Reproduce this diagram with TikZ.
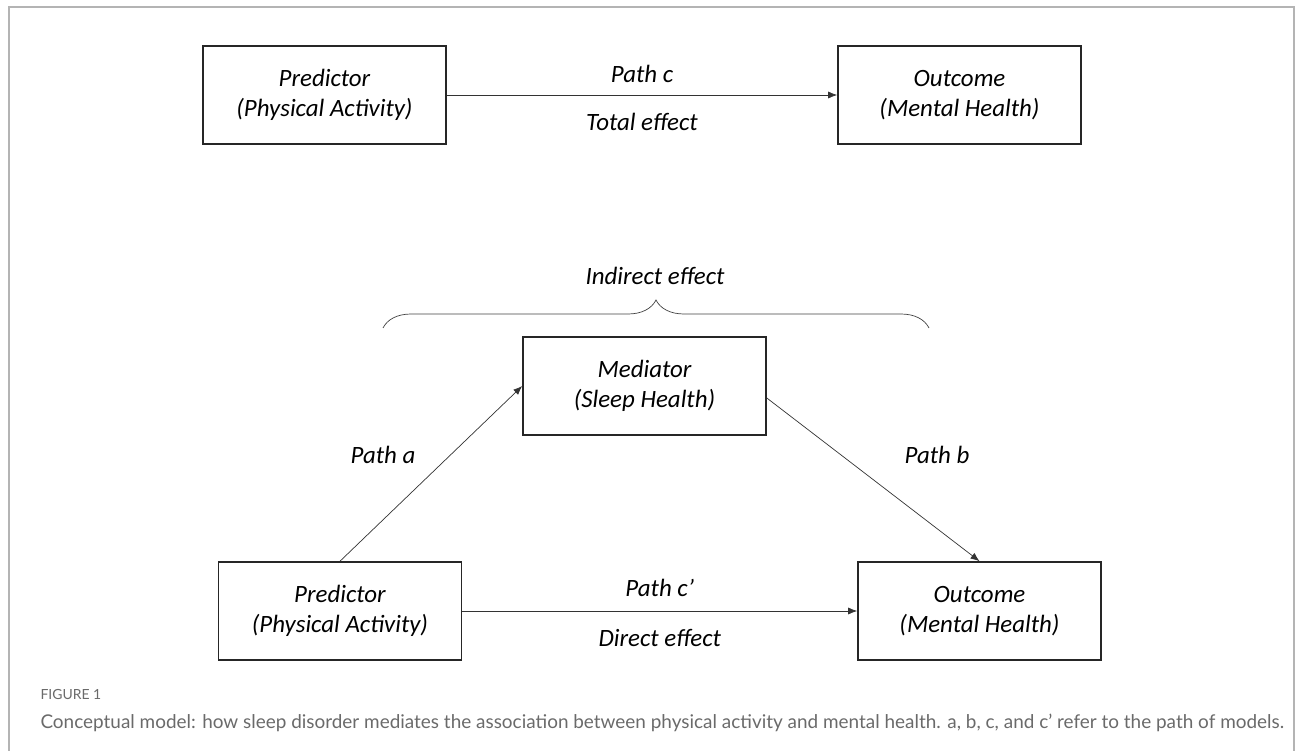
\documentclass[tikz,border=0pt]{standalone}
\usepackage{fontspec}
\setmainfont{Carlito}
\newfontfamily\capfont{Lato}
\usetikzlibrary{arrows.meta,decorations.pathreplacing}

\definecolor{framegray}{HTML}{B4B4B4}
\definecolor{capgray}{HTML}{6A6A6A}

\begin{document}
\begin{tikzpicture}[x=1bp,y=-1bp,
  box/.style={draw=black!85, line width=1.6bp, minimum width=243bp, minimum height=98bp,
    inner sep=0pt, align=center, text=black, font=\fontsize{25}{30}\selectfont\itshape},
  lbl/.style={text=black, font=\fontsize{25}{30}\selectfont\itshape},
  link/.style={-{Latex[length=9bp,width=7bp]}, line width=0.7bp, draw=black!80},
  capt/.style={anchor=base west, text=capgray}]

\useasboundingbox (0,0) rectangle (1295,751);

% Frame round the figure
\draw[framegray, line width=1.5bp] (9,751) -- (9,7) -- (1294,7) -- (1294,751);

% Total effect model
\node[box] (predA) at (324.5,95) {Predictor\\(Physical Activity)};
\node[box] (outA) at (959.5,95) {Outcome\\(Mental Health)};
\draw[link] (predA) -- (outA) node[midway, above=9bp, lbl] {Path c}
                              node[midway, below=15bp, lbl] {Total effect};

% Mediation model
\node[box] (med) at (644.5,386) {Mediator\\(Sleep Health)};
\node[box] (predB) at (340,611) {Predictor\\(Physical Activity)};
\node[box] (outB) at (979.5,611) {Outcome\\(Mental Health)};

\draw[link] (predB.north) -- (med.west);                 % path a
\draw[link] ([yshift=-12bp]med.east) -- (outB.north);    % path b
\draw[link] (predB) -- (outB) node[midway, above=11bp, lbl] {Path c’}
                              node[midway, below=15bp, lbl] {Direct effect};

\node[lbl] (pathA) at (383,455) {Path a};
\node[lbl] (pathB) at (937,455) {Path b};

% Brace over the indirect effect
\coordinate (braceL) at (383,328);
\coordinate (braceR) at (929,328);
\draw[line width=0.7bp, black!75, decorate, decoration={brace, amplitude=28bp}] (braceL) -- (braceR);
\node[lbl] (indirect) at (655,276) {Indirect effect};

% Caption
\node[capt, font=\capfont\fontsize{14}{16}\selectfont] (figno) at (37,699) {FIGURE 1};
\node[capt, font=\capfont\fontsize{19}{22}\selectfont] (caption) at (37,728)
  {Conceptual model: how sleep disorder mediates the association between physical activity and mental health. a, b, c, and c’ refer to the path of models.};

\end{tikzpicture}
\end{document}
